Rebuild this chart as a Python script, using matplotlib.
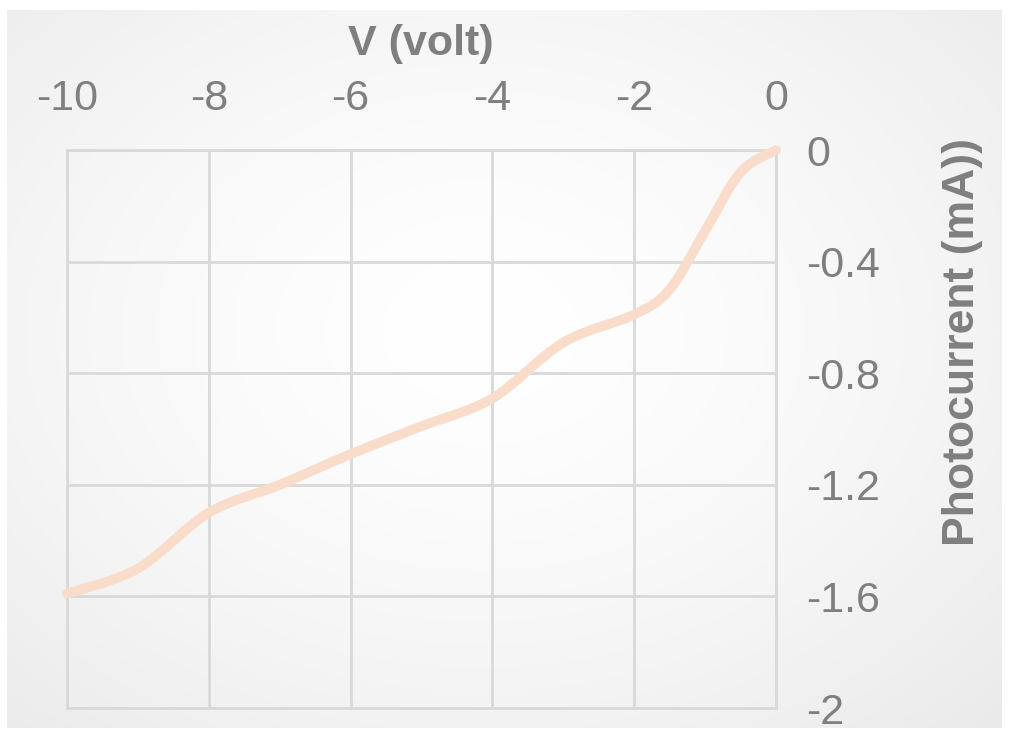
import numpy as np
import matplotlib
matplotlib.use("Agg")
import matplotlib.pyplot as plt
from matplotlib.path import Path
from matplotlib.patches import PathPatch

# Data
voltage = [-10, -9, -8, -7, -6, -5, -4, -3, -2, -1.5, -1, -0.5, 0]
current = [-1.59, -1.50, -1.30, -1.20, -1.09, -0.99, -0.89, -0.69, -0.59, -0.50, -0.29, -0.08, 0.0]
x_ticks = [-10, -8, -6, -4, -2, 0]
x_tick_labels = ["-10", "-8", "-6", "-4", "-2", "0"]
y_ticks = [0, -0.4, -0.8, -1.2, -1.6, -2]
y_tick_labels = ["0", "-0.4", "-0.8", "-1.2", "-1.6", "-2"]
x_title = "V (volt)"
y_title = "Photocurrent (mA))"

plt.rcParams['font.family'] = ['Liberation Sans', 'DejaVu Sans']
W, H = 1013, 738
fig = plt.figure(figsize=(W / 100, H / 100), dpi=100)
fig.patch.set_facecolor('white')

# Background panel with soft radial gradient
bg = fig.add_axes([0, 0, 1, 1], zorder=-10)
bg.set_xlim(0, W)
bg.set_ylim(H, 0)
bg.axis('off')
yy, xx = np.mgrid[10:728, 7:1002]
d = np.sqrt(((xx - 480) / 700.0) ** 2 + ((yy - 330) / 520.0) ** 2)
val = 1.0 - 0.075 * np.clip(d, 0, 1.2) ** 1.5
img = np.dstack([val, val, val])
bg.imshow(img, extent=[7, 1002, 728, 10], aspect='auto', interpolation='bilinear')

ax = fig.add_axes([67 / W, 1 - 708 / H, (776 - 67) / W, (708 - 150) / H])
ax.set_facecolor('none')
ax.set_xlim(-10, 0)
ax.set_ylim(-2, 0)

grid_c = '#d9d9d9'
ax.set_xticks(x_ticks)
ax.set_xticklabels(x_tick_labels)
ax.set_yticks(y_ticks)
ax.set_yticklabels(y_tick_labels)
ax.xaxis.tick_top()
ax.yaxis.tick_right()
ax.tick_params(axis='both', length=0, labelsize=31, labelcolor='#7f7f7f')
ax.tick_params(axis='x', pad=22)
ax.tick_params(axis='y', pad=22)
for lab in ax.get_yticklabels():
    lab.set_horizontalalignment('left')
ax.grid(True, color=grid_c, linewidth=2)
for s in ax.spines.values():
    s.set_color(grid_c)
    s.set_linewidth(2)

# Smoothed line (Bezier through data points)
pts = np.column_stack([voltage, current])
n = len(pts)
verts = [tuple(pts[0])]
codes = [Path.MOVETO]
for i in range(n - 1):
    p0 = pts[i - 1] if i > 0 else pts[i]
    p1 = pts[i]
    p2 = pts[i + 1]
    p3 = pts[i + 2] if i + 2 < n else pts[i + 1]
    c1 = p1 + (p2 - p0) / 6.0
    c2 = p2 - (p3 - p1) / 6.0
    verts += [tuple(c1), tuple(c2), tuple(p2)]
    codes += [Path.CURVE4] * 3
path = Path(verts, codes)
ax.add_patch(PathPatch(path, facecolor='none', edgecolor='#fadccb', linewidth=7,
                       capstyle='round', joinstyle='round', transform=ax.transData,
                       clip_on=False, zorder=3))

fig.text(421 / W, 1 - 55 / H, x_title, ha='center', va='baseline', fontsize=31,
         fontweight='bold', color='#7f7f7f')
fig.text(962 / W, 1 - 342 / H, y_title, ha='center', va='center', rotation=90,
         fontsize=32, fontweight='bold', color='#7f7f7f')

fig.savefig('out.png', dpi=100)
